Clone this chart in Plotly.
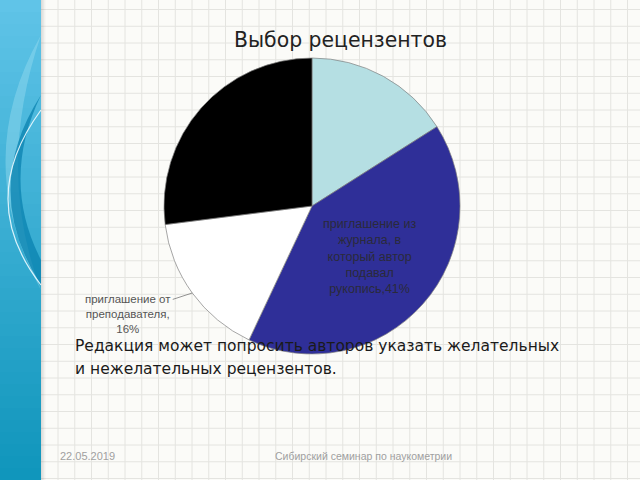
import math
import plotly.graph_objects as go

# ---- data ----
categories = ["рекомендация коллег",
              "приглашение из журнала, в который автор подавал рукопись",
              "приглашение от преподавателя",
              "самостоятельный выбор"]
values = [16, 41, 16, 27]
colors = ["#b5dfe3", "#2f2f98", "#ffffff", "#000000"]
title_text = "Выбор рецензентов"
body_lines = ["Редакция может попросить авторов указать желательных",
              "и нежелательных рецензентов."]
footer_date = "22.05.2019"
footer_text = "Сибирский семинар по наукометрии"

W, H = 640, 480


def X(x):
    return x / W


def Y(y):
    return 1 - y / H


# pie geometry (pixels)
cx, cy, R = 312, 206, 148

total = sum(values)
pct = [round(v / total * 100) for v in values]

fig = go.Figure()
fig.add_trace(go.Pie(
    labels=categories, values=values, sort=False, direction="clockwise", rotation=0,
    marker=dict(colors=colors, line=dict(color="#808080", width=0.7)),
    textinfo="none",
    hoverinfo="label+percent", showlegend=False,
    domain=dict(x=[X(cx - R), X(cx + R)], y=[Y(cy + R), Y(cy - R)]),
))


def slice_point(idx, frac_r):
    start = sum(values[:idx]) / total * 360
    mid = math.radians(start + values[idx] / total * 360 / 2)
    return cx + frac_r * R * math.sin(mid), cy - frac_r * R * math.cos(mid)


shapes = []
# grid background
gx = 58.0
while gx < W:
    shapes.append(dict(type="line", xref="paper", yref="paper", x0=X(gx), x1=X(gx), y0=0, y1=1,
                       line=dict(color="#e4e4e0", width=1), layer="below"))
    gx += 16.75
gy = 9.5
while gy < H:
    shapes.append(dict(type="line", xref="paper", yref="paper", x0=X(40), x1=1, y0=Y(gy), y1=Y(gy),
                       line=dict(color="#e4e4e0", width=1), layer="below"))
    gy += 16.75

# left band gradient
top = (96, 196, 232)
bot = (16, 150, 188)
n = 40
for i in range(n):
    t = i / (n - 1)
    c = tuple(int(top[k] + (bot[k] - top[k]) * t) for k in range(3))
    shapes.append(dict(type="rect", xref="paper", yref="paper", x0=0, x1=X(41),
                       y0=Y((i + 1) * H / n + 0.5), y1=Y(i * H / n),
                       fillcolor="rgb(%d,%d,%d)" % c, line=dict(width=0), layer="below"))
# shadow at band edge
for i, a in enumerate([0.18, 0.1, 0.05]):
    shapes.append(dict(type="rect", xref="paper", yref="paper", x0=X(41 + i * 1.5), x1=X(42.5 + i * 1.5),
                       y0=0, y1=1, fillcolor="rgba(80,80,80,%g)" % a, line=dict(width=0), layer="below"))


def P(x, y):
    return "%.5f,%.5f" % (X(x), Y(y))


shapes.append(dict(type="path", xref="paper", yref="paper",
                   path="M %s Q %s %s Q %s %s Z" % (P(41, 35), P(-30, 160), P(41, 290),
                                                    P(-5, 170), P(41, 35)),
                   fillcolor="rgba(150,220,240,0.45)", line=dict(width=0), layer="below"))
shapes.append(dict(type="path", xref="paper", yref="paper",
                   path="M %s Q %s %s L %s Q %s %s Z" % (P(41, 95), P(-20, 190), P(41, 285),
                                                         P(41, 260), P(0, 180), P(41, 95)),
                   fillcolor="rgba(10,130,175,0.75)", line=dict(width=0), layer="below"))
shapes.append(dict(type="path", xref="paper", yref="paper",
                   path="M %s Q %s %s" % (P(41, 110), P(-25, 200), P(41, 285)),
                   line=dict(color="rgba(235,250,255,0.9)", width=1.2), layer="below"))

annotations = []
annotations.append(dict(text=title_text, xref="paper", yref="paper", x=X(340), y=Y(40),
                        showarrow=False, xanchor="center", yanchor="middle",
                        font=dict(family="DejaVu Sans", size=20.4, color="#222222")))

# inside label of the large slice
ix, iy = slice_point(1, 0.52)
annotations.append(dict(text="приглашение из<br>журнала, в<br>который автор<br>подавал<br>рукопись,%d%%" % pct[1],
                        xref="paper", yref="paper", x=X(ix), y=Y(iy),
                        showarrow=False, xanchor="center", yanchor="middle", align="center",
                        font=dict(family="Liberation Sans, Arial", size=12.5, color="#2a2a3a")))

for i, line in enumerate(body_lines):
    annotations.append(dict(text=line, xref="paper", yref="paper", x=X(73), y=Y(346 + 23 * i),
                            showarrow=False, xanchor="left", yanchor="middle",
                            font=dict(family="DejaVu Sans", size=15.5, color="#1a1a1a")))

# outside label for the third slice with leader line
ex, ey = slice_point(2, 1.0)
annotations.append(dict(text="приглашение от<br>преподавателя,<br>%d%%" % pct[2],
                        xref="paper", yref="paper", x=X(ex), y=Y(ey),
                        showarrow=True, arrowhead=0, arrowwidth=0.8, arrowcolor="#777777",
                        ax=-64, ay=21, xanchor="center", yanchor="middle",
                        font=dict(family="Liberation Sans, Arial", size=11.5, color="#555555")))

annotations.append(dict(text=footer_date, xref="paper", yref="paper", x=X(58), y=Y(456),
                        showarrow=False, xanchor="left", yanchor="middle",
                        font=dict(family="Liberation Sans, Arial", size=11, color="#a0a0a0")))
annotations.append(dict(text=footer_text, xref="paper", yref="paper", x=X(363), y=Y(456),
                        showarrow=False, xanchor="center", yanchor="middle",
                        font=dict(family="Liberation Sans, Arial", size=10.5, color="#a0a0a0")))

fig.update_layout(width=W, height=H, margin=dict(l=0, r=0, t=0, b=0),
                  paper_bgcolor="#fbfbf8", plot_bgcolor="#fbfbf8",
                  shapes=shapes, annotations=annotations)

fig.write_html("out.html")
